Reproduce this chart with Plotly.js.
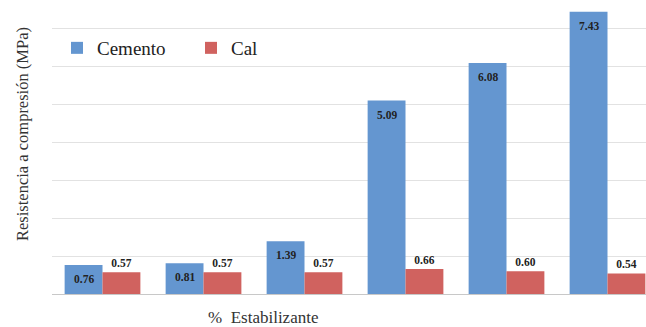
<!DOCTYPE html>
<html>
<head>
<meta charset="utf-8">
<script src="https://cdn.plot.ly/plotly-3.0.1.min.js"></script>
<style>html,body{margin:0;padding:0;background:#fff;}#chart{width:646px;height:327px;}</style>
</head>
<body>
<div id="chart"></div>
<script>
// Data
const categories = ["G1", "G2", "G3", "G4", "G5", "G6"];
const cemento = [0.76, 0.81, 1.39, 5.09, 6.08, 7.43];
const cal = [0.57, 0.57, 0.57, 0.66, 0.60, 0.54];
const seriesNames = ["Cemento", "Cal"];

const serif = "'Liberation Serif', 'DejaVu Serif', serif";
const colCem = "#6496D0";
const colCal = "#D0625F";

const traces = [
  {
    type: "bar", name: seriesNames[0], x: categories, y: cemento,
    marker: {color: colCem}, hoverinfo: "skip"
  },
  {
    type: "bar", name: seriesNames[1], x: categories, y: cal,
    marker: {color: colCal},
    text: cal.map(v => "<b>" + v.toFixed(2) + "</b>"), textposition: "outside", cliponaxis: false,
    textfont: {family: serif, size: 11.5, color: "#222"},
    hoverinfo: "skip"
  }
];

const W = 646, ml = 52, mr = 0;
const catPx = 101;
const plotW = W - ml - mr;
const xMax = -0.5 + plotW / catPx;
const barPx = catPx * 0.75 / 2;

const annotations = categories.map((c, i) => ({
  x: i, y: cemento[i], xref: "x", yref: "y",
  xshift: -barPx / 2, yshift: -14, yanchor: "middle", xanchor: "center",
  text: "<b>" + cemento[i].toFixed(2) + "</b>", showarrow: false,
  font: {family: serif, size: 11.5, color: "#222"}
}));
annotations.push({
  xref: "paper", yref: "paper", x: (263 - ml) / plotW, y: (294 - 318) / 284,
  yanchor: "middle", xanchor: "center", showarrow: false,
  text: "%  Estabilizante", font: {family: serif, size: 17, color: "#333"}
});
annotations.push({
  xref: "paper", yref: "paper", x: (22 - ml) / plotW, y: (294 - 134) / 284,
  yanchor: "middle", xanchor: "center", showarrow: false, textangle: -90,
  text: "Resistencia a compresión (MPa)", font: {family: serif, size: 16.5, color: "#333"}
});

const layout = {
  width: W, height: 327,
  font: {family: serif},
  margin: {l: ml, r: mr, t: 10, b: 33},
  paper_bgcolor: "#fff", plot_bgcolor: "#fff",
  barmode: "group", bargap: 0.25, bargroupgap: 0,
  showlegend: true,
  legend: {
    orientation: "h", x: (57 - ml) / plotW, y: (294 - 48) / 284,
    xanchor: "left", yanchor: "middle",
    font: {family: serif, size: 19, color: "#222"},
    entrywidth: 89, entrywidthmode: "pixels",
    itemwidth: 30, tracegroupgap: 0, bgcolor: "rgba(0,0,0,0)"
  },
  xaxis: {
    type: "category", range: [-0.5, xMax], showticklabels: false, ticks: "",
    showgrid: false, showline: true, linecolor: "#c8c8c8", linewidth: 1,
    fixedrange: true
  },
  yaxis: {
    range: [0, 284 / 38], dtick: 1, tick0: 0, showticklabels: false, ticks: "",
    showgrid: true, gridcolor: "#e2e2e2", gridwidth: 1, zeroline: false,
    showline: false, fixedrange: true
  },
  annotations: annotations
};

Plotly.newPlot("chart", traces, layout, {displayModeBar: false, staticPlot: true});
</script>
</body>
</html>
